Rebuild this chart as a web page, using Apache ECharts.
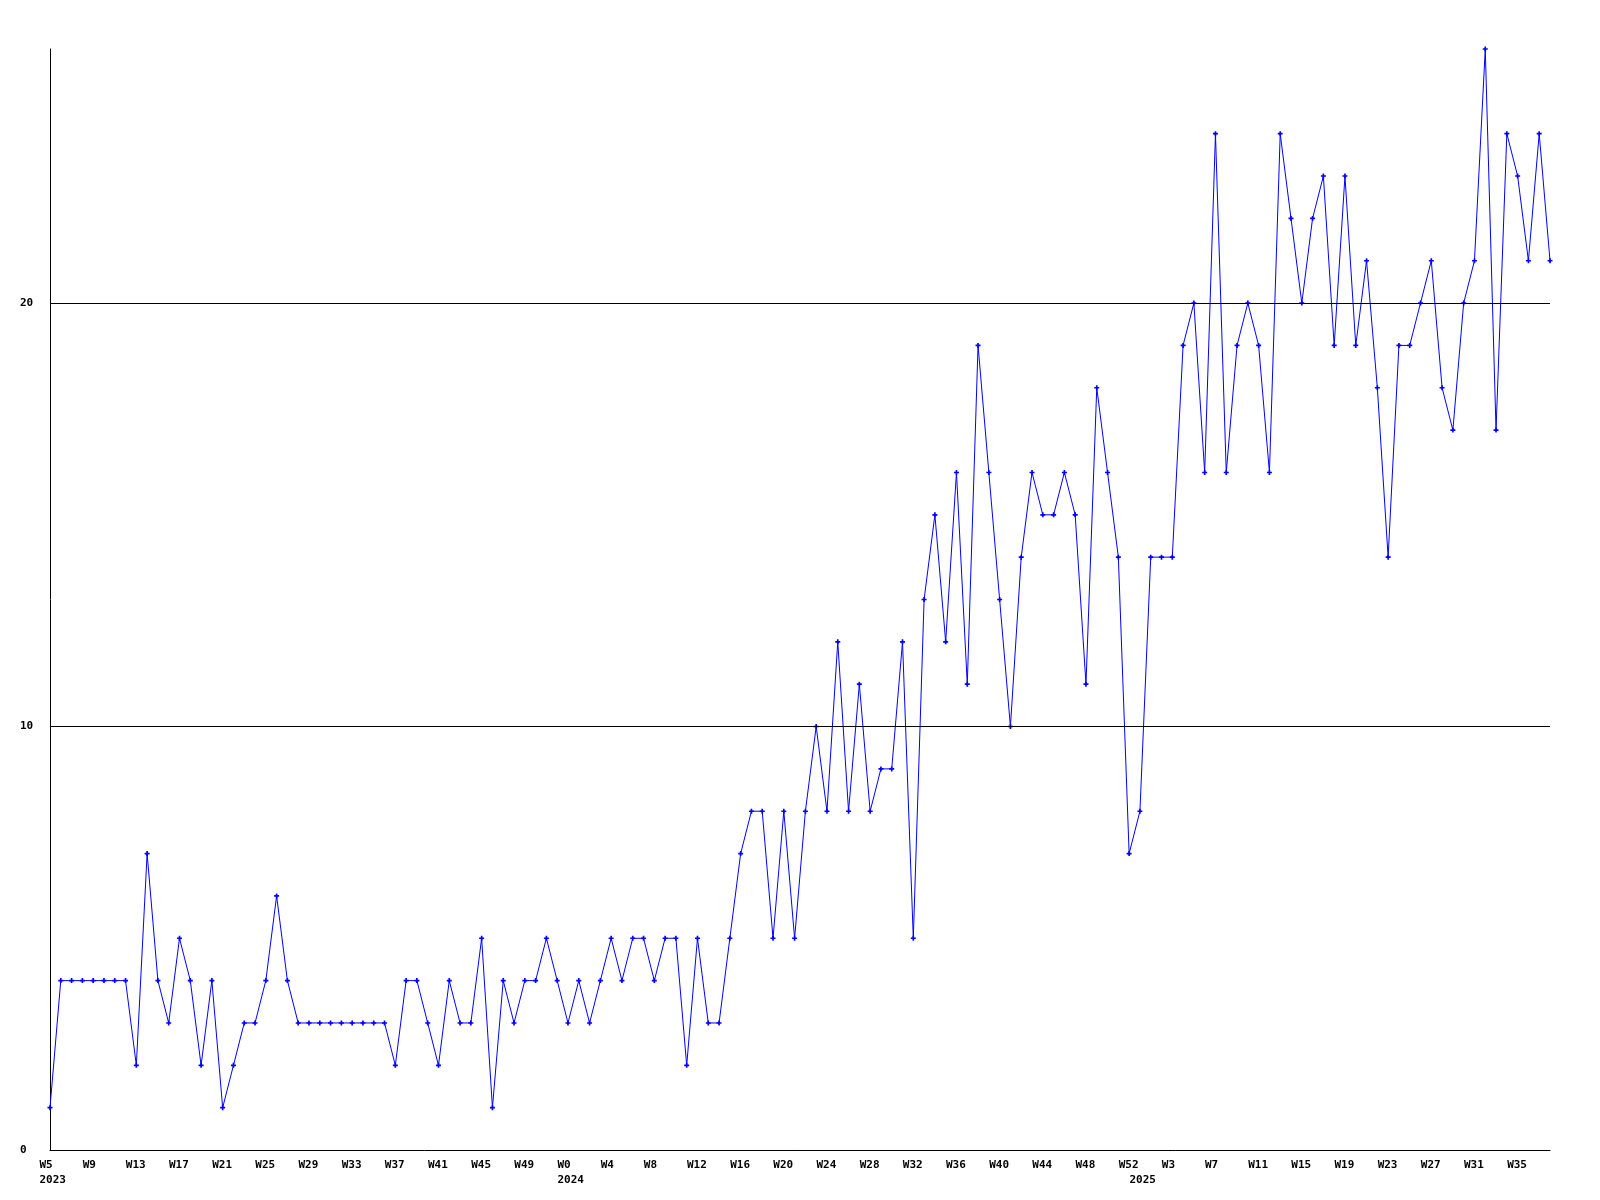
<!DOCTYPE html>
<html>
<head>
<meta charset="utf-8">
<script src="https://cdn.jsdelivr.net/npm/echarts@6/dist/echarts.min.js"></script>
<style>
html,body{margin:0;padding:0;background:#fff;}
#chart{width:1600px;height:1200px;}
</style>
</head>
<body>
<div id="chart"></div>
<script>
// Week spans per year: [year, firstWeek, lastWeek]
const yearSpans = [[2023, 5, 52], [2024, 0, 52], [2025, 0, 38]];
// Weekly values per year
const values2023 = [1, 4,4,4,4,4,4,4, 2,7,4,3,5,4,2,4,1,2,3,3,4,6,4, 3,3,3,3,3,3,3,3,3, 2,4,4,3,2,4,3,3,5,1,4,3,4,4,5,4];
const values2024 = [3,4,3,4,5,4,5,5,4,5, 5,2,5,3,3,5,7,8,8,5, 8,5,8,10,8,12,8,11,8,9, 9,12,5,13,15,12,16,11,19,16, 13,10,14,16,15,15,16,15,11,18, 16,14,7];
const values2025 = [8,14,14,14,19,20,16,24,16,19, 20,19,16,24,22,20,22,23,19,23, 19,21,18,14,19,19,20,21,18,17, 20,21,26,17,24,23,21,24,21];
const yTicks = [0, 10, 20];
const gridValues = [10, 20];

const categories = [];
const catYears = [];
const catWeeks = [];
yearSpans.forEach(([y, a, b]) => {
  for (let w = a; w <= b; w++) { categories.push(y + '-W' + w); catYears.push(y); catWeeks.push(w); }
});
const values = values2023.concat(values2024, values2025);

function isYearStart(i) { return i === 0 || catYears[i] !== catYears[i - 1]; }
function isWeekLabel(i) { return i % 4 === 0; }

const FONT = '"DejaVu Sans Mono", "Liberation Mono", monospace';
const chart = echarts.init(document.getElementById('chart'), null, {renderer: 'canvas'});
chart.setOption({
  animation: false,
  backgroundColor: '#ffffff',
  grid: {left: 50, right: 50, top: 49, bottom: 50, containLabel: false},
  xAxis: {
    type: 'category',
    data: categories,
    boundaryGap: false,
    axisLine: {show: true, lineStyle: {color: '#000', width: 1}},
    axisTick: {show: false},
    splitLine: {show: false},
    axisLabel: {
      interval: function (index) { return isWeekLabel(index) || isYearStart(index); },
      hideOverlap: false,
      margin: 8,
      align: 'center',
      formatter: function (value, index) {
        const w = isWeekLabel(index) ? '{w|W' + catWeeks[index] + '}' : '{w| }';
        if (isYearStart(index)) {
          return w + '\n{w|' + catYears[index] + '}';
        }
        return w;
      },
      rich: {
        w: {width: 21, align: 'left', fontFamily: FONT, fontWeight: 'bold', fontSize: 11, lineHeight: 15, color: '#000'}
      }
    }
  },
  yAxis: {
    type: 'value',
    min: 0,
    max: 26,
    interval: 10,
    axisLine: {show: true, lineStyle: {color: '#000', width: 1}},
    axisTick: {show: false},
    splitLine: {show: false},
    axisLabel: {
      margin: 30,
      align: 'left',
      fontFamily: FONT,
      fontWeight: 'bold',
      fontSize: 11,
      color: '#000',
      formatter: function (v) { return yTicks.indexOf(v) >= 0 ? String(v) : ''; }
    }
  },
  series: [
    {
      type: 'line',
      data: [],
      z: 1,
      silent: true,
      markLine: {
        silent: true,
        symbol: ['none', 'none'],
        label: {show: false},
        lineStyle: {color: '#000', width: 1, type: 'solid'},
        data: gridValues.map(v => ({yAxis: v}))
      }
    },
    {
      type: 'line',
      data: values,
      z: 3,
      symbol: 'path://M1,0H2V1H3V2H2V3H1V2H0V1H1Z',
      symbolSize: 5,
      showSymbol: true,
      showAllSymbol: true,
      lineStyle: {color: '#0000ff', width: 1},
      itemStyle: {color: '#0000ff', borderWidth: 0}
    }
  ]
});
</script>
</body>
</html>
